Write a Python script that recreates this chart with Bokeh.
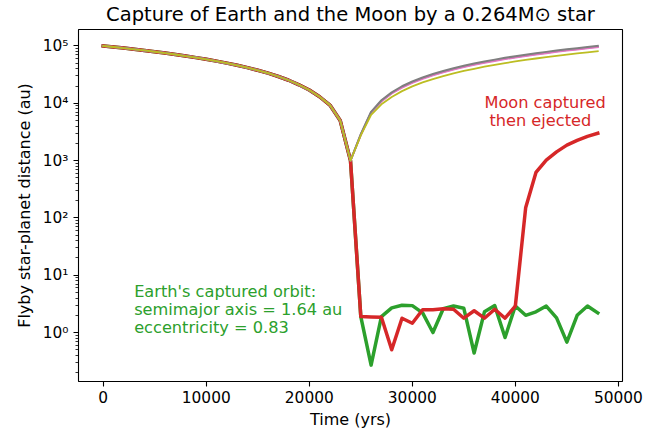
from bokeh.plotting import figure
from bokeh.models import Range1d, FixedTicker, CustomJSTickFormatter, NumeralTickFormatter
from bokeh.core.properties import value
from bokeh.embed import file_html
from bokeh.resources import INLINE

# ---- data ----
time_yrs = list(range(0, 48001, 1000))

# inbound leg shared by all bodies, t = 0 .. 24000 yr
approach = [100000, 95800, 91700, 87500, 83400, 79200, 75100, 70900, 66700, 62600,
            58400, 54300, 50100, 45900, 41800, 37600, 33500, 29300, 25200, 21000,
            17000, 13000, 9300, 5000, 1000]

# outbound legs, t = 25000 .. 48000 yr
gray_out = [2900, 7100, 11300, 15500, 19800, 24000, 28200, 32400, 36600, 40900,
            45100, 49300, 53500, 57700, 62000, 66200, 70400, 74600, 78800, 83100,
            87300, 91500, 95700, 100000]
pink_out = [2800, 6800, 10800, 14800, 18800, 22800, 26800, 30800, 34800, 38900,
            42800, 46800, 50800, 54800, 58900, 62900, 66900, 70900, 74900, 78900,
            82900, 86900, 90900, 95000]
purple_out = [2850, 6950, 11000, 15100, 19200, 23300, 27400, 31400, 35500, 39700,
              43700, 47800, 51900, 56000, 60100, 64200, 68300, 72400, 76400, 80600,
              84700, 88800, 92800, 97000]
olive_out = [2750, 6300, 9600, 12900, 16300, 19700, 23100, 26400, 29800, 33200,
             36600, 40000, 43400, 46800, 50200, 53600, 57000, 60400, 63800, 67300,
             70700, 74100, 77500, 81000]
earth_out = [1.9, 0.27, 1.9, 2.7, 3.0, 2.95, 2.2, 1.0, 2.6, 2.9,
             2.65, 0.44, 2.3, 2.95, 0.82, 2.9, 2.0, 2.3, 2.9, 1.8,
             0.68, 2.0, 2.9, 2.2]
moon_out = [1.9, 1.87, 1.85, 0.5, 1.78, 1.45, 2.5, 2.5, 2.6, 2.55,
            1.78, 2.4, 1.78, 2.55, 1.78, 2.9, 150, 620, 1020, 1420,
            1860, 2250, 2650, 3000]

x_ticks = [0, 10000, 20000, 30000, 40000, 50000]
y_ticks = [1, 10, 100, 1000, 10000, 100000]

FONT = "DejaVu Sans"

p = figure(width=660, height=428, frame_width=544, frame_height=352,
           output_backend="svg", toolbar_location=None,
           y_axis_type="log",
           x_range=Range1d(-2400, 50400), y_range=Range1d(0.14, 193600),
           min_border_left=78, min_border_right=38, min_border_top=28, min_border_bottom=48,
           title="Capture of Earth and the Moon by a 0.264M\u2299 star")

p.title.text_font = FONT
p.title.text_font_size = "19.5px"
p.title.text_font_style = "normal"
p.title.text_color = "black"
p.title.align = "center"
p.title.vertical_align = "top"
p.title.standoff = 4

p.background_fill_color = "white"
p.border_fill_color = "white"
p.outline_line_color = "black"
p.outline_line_width = 1.1
p.xgrid.visible = False
p.ygrid.visible = False

series = [
    ("#2ca02c", approach + earth_out, 3.5),
    ("#d62728", approach + moon_out, 3.5),
    ("#9467bd", approach + purple_out, 2),
    ("#e377c2", approach + pink_out, 2),
    ("#7f7f7f", approach + gray_out, 2),
    ("#bcbd22", approach + olive_out, 1.8),
]
for color, ys, lw in series:
    p.line(time_yrs, ys, line_color=color, line_width=lw, line_join="round", line_cap="square")

# annotations
green_lines = ["Earth's captured orbit:", "semimajor axis = 1.64 au", "eccentricity = 0.83"]
green_y = [5.18, 2.48, 1.22]
p.text(x=[3000] * 3, y=green_y, text=green_lines, text_color="#2ca02c",
       text_font=value(FONT), text_font_size="16.2px", text_align="left", text_baseline="middle")
p.text(x=[37000, 37480], y=[10160, 4930], text=["Moon captured", "then ejected"],
       text_color="#d62728", text_font=value(FONT), text_font_size="16.2px",
       text_align="left", text_baseline="middle")

# axes
xa = p.xaxis[0]
xa.ticker = FixedTicker(ticks=x_ticks)
xa.formatter = NumeralTickFormatter(format="0")
xa.axis_label = "Time (yrs)"
ya = p.yaxis[0]
minor = [m * 10 ** k for k in range(-1, 6) for m in range(2, 10)]
ya.ticker = FixedTicker(ticks=y_ticks, minor_ticks=minor)
ya.formatter = CustomJSTickFormatter(code="""
const sup = {"0":"\u2070","1":"\u00b9","2":"\u00b2","3":"\u00b3","4":"\u2074","5":"\u2075","6":"\u2076","7":"\u2077","8":"\u2078","9":"\u2079","-":"\u207b"};
const e = Math.round(Math.log10(tick));
return "10" + String(e).split("").map(c => sup[c]).join("");
""")
ya.axis_label = "Flyby star-planet distance (au)"

for ax in (xa, ya):
    ax.axis_line_color = None
    ax.major_tick_out = 5
    ax.major_tick_in = 0
    ax.minor_tick_out = 3
    ax.minor_tick_in = 0
    ax.major_tick_line_color = "black"
    ax.minor_tick_line_color = "black"
    ax.major_tick_line_width = 1.1
    ax.minor_tick_line_width = 0.8
    ax.major_label_text_font = FONT
    ax.major_label_text_font_size = "15.4px"
    ax.major_label_text_color = "black"
    ax.axis_label_text_font = FONT
    ax.axis_label_text_font_size = "16px"
    ax.axis_label_text_font_style = "normal"
    ax.axis_label_text_color = "black"
    ax.major_label_standoff = 5
    ax.axis_label_standoff = 6
xa.minor_tick_line_color = None
xa.major_label_standoff = 4
xa.axis_label_standoff = 4

open("out.html", "w").write(file_html(p, INLINE))
